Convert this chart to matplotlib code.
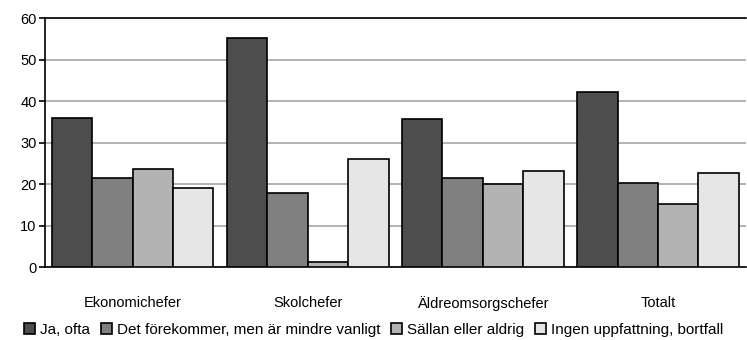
import matplotlib.pyplot as plt
import numpy as np

plt.rcParams['font.family'] = ['Liberation Sans', 'DejaVu Sans']

categories = ["Ekonomichefer", "Skolchefer", "Äldreomsorgschefer", "Totalt"]
series_names = ["Ja, ofta", "Det förekommer, men är mindre vanligt",
                "Sällan eller aldrig", "Ingen uppfattning, bortfall"]
ja_ofta = [36.0, 55.2, 35.6, 42.1]
forekommer = [21.4, 17.8, 21.4, 20.3]
sallan = [23.6, 1.2, 20.0, 15.1]
ingen = [19.0, 26.0, 23.1, 22.6]
colors = ["#4d4d4d", "#808080", "#b3b3b3", "#e6e6e6"]

fig = plt.figure(figsize=(7.47, 3.4), dpi=100)
ax = fig.add_axes([0.0602, 0.2147, 0.938, 0.7323])

x = np.arange(len(categories))
w = 0.2308
for i, vals in enumerate([ja_ofta, forekommer, sallan, ingen]):
    ax.bar(x + (i - 1.5) * w, vals, w, color=colors[i], edgecolor="black",
           linewidth=1.2, label=series_names[i], zorder=3)

ax.set_xlim(-0.5, len(categories) - 0.5)
ax.set_ylim(0, 60)
ax.set_yticks(range(0, 61, 10))
ax.set_xticks(x)
ax.set_xticklabels(categories, fontsize=10.5)
ax.tick_params(axis="x", length=0, pad=21)
ax.tick_params(axis="y", labelsize=10.5, length=4, width=1.2, pad=2)
ax.grid(axis="y", color="#a6a6a6", linewidth=1.2, zorder=0)
for s in ["left", "bottom", "top"]:
    ax.spines[s].set_linewidth(1.2)
ax.spines["right"].set_visible(False)

handles, labels = ax.get_legend_handles_labels()
fig.legend(handles, labels, loc="center", bbox_to_anchor=(0.5, 0.03), ncol=4,
           frameon=False, fontsize=11, handlelength=0.75, handleheight=0.75,
           handletextpad=0.3, columnspacing=0.7, borderaxespad=0, borderpad=0)

fig.savefig("out.png", dpi=100)
